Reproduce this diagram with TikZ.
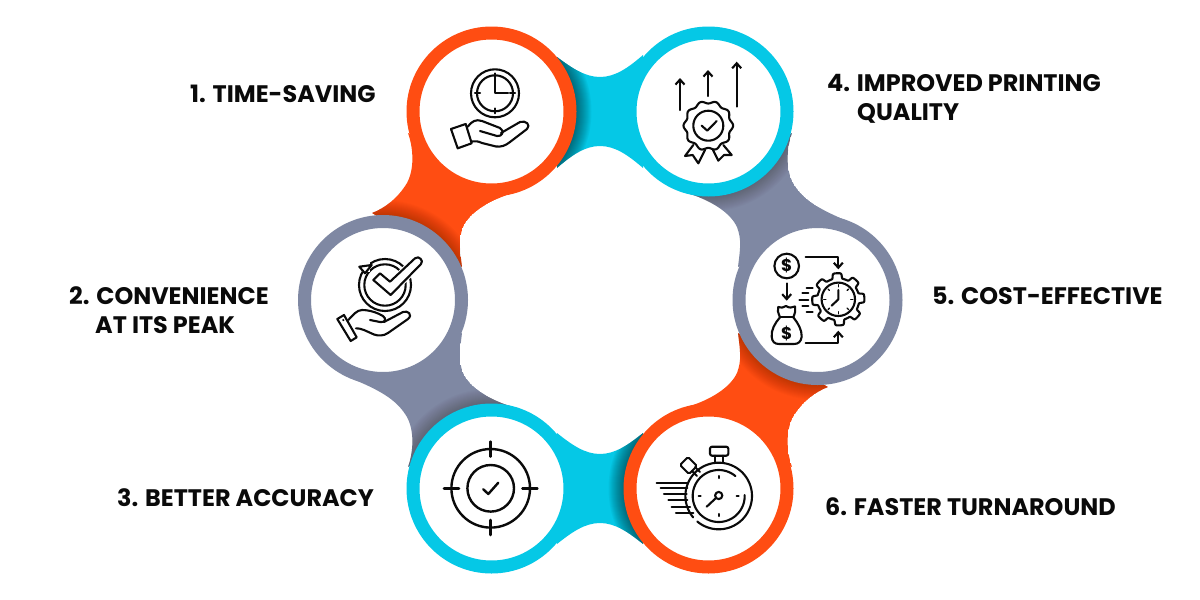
\documentclass[tikz,border=0pt]{standalone}
\usepackage{fontspec}
\setmainfont{Poppins}
\usetikzlibrary{arrows.meta,calc}
\definecolor{orangeC}{HTML}{FF4D12}
\definecolor{cyanC}{HTML}{05C8E6}
\definecolor{grayC}{HTML}{7F88A3}
\definecolor{inkC}{HTML}{0A0A0A}
\tikzset{
  x=1pt,y=-1pt,
  ring/.style={circle,fill=white,draw=#1,line width=13pt,minimum size=157pt,inner sep=0pt},
  lab/.style={anchor=base west,inner sep=0pt,text=inkC,font=\fontsize{23.9}{26}\selectfont\bfseries},
  ic/.style={draw=inkC,line width=2.1pt,line cap=round,line join=round},
  arr/.style={ic,-{Straight Barb[length=5pt,width=9pt,line width=2.1pt]}},
  dollar/.style={inner sep=0pt,text=inkC,font=\fontsize{17}{17}\selectfont\bfseries}
}
\newcommand{\linkfill}[3]{%
  \begin{scope}
    \clip #1;
    \fill[#2] #1;
    \foreach \rr in {85,86,...,100} {\fill[black,opacity=#3] (\shadowc) circle (\rr);}
  \end{scope}}
\begin{document}
\begin{tikzpicture}
\useasboundingbox (0,0) rectangle (1200,600);
\fill[white] (0,0) rectangle (1200,600);
\coordinate (p1) at (491.5,111.5);
\coordinate (p2) at (383,300);
\coordinate (p3) at (491.5,488.5);
\coordinate (p4) at (708.5,111.5);
\coordinate (p5) at (817.5,300);
\coordinate (p6) at (708.5,488.5);
% links
\def\shadowc{p1}
\linkfill{(557,57) .. controls (572,68) and (585,77) .. (600,77) .. controls (615,77) and (628,68) .. (643,55) -- (643,168) .. controls (628,155) and (615,146) .. (600,146) .. controls (585,146) and (572,155) .. (557,168) -- cycle}{cyanC}{0.035}
\def\shadowc{p6}
\linkfill{(557,433) .. controls (572,445) and (585,454) .. (600,454) .. controls (615,454) and (628,445) .. (643,433) -- (643,544) .. controls (628,532) and (615,523) .. (600,523) .. controls (585,523) and (572,532) .. (557,544) -- cycle}{cyanC}{0.035}
\def\shadowc{p2}
\linkfill{(408,133) .. controls (414,150) and (414,170) .. (407,183) .. controls (398,198) and (385,208) .. (372,213) -- (462,267) .. controls (460,250) and (458,240) .. (463,227) .. controls (470,212) and (490,200) .. (513,193) -- cycle}{orangeC}{0.014}
\def\shadowc{p5}
\linkfill{(792,467) .. controls (786,450) and (786,430) .. (793,417) .. controls (802,402) and (815,392) .. (828,387) -- (738,333) .. controls (740,350) and (742,360) .. (737,373) .. controls (730,388) and (710,400) .. (687,407) -- cycle}{orangeC}{0.014}
\def\shadowc{p3}
\linkfill{(408,467) .. controls (414,450) and (414,430) .. (407,417) .. controls (398,402) and (385,392) .. (350,378) -- (462,333) .. controls (460,350) and (458,360) .. (463,373) .. controls (470,388) and (490,400) .. (513,407) -- cycle}{grayC}{0.016}
\def\shadowc{p4}
\linkfill{(792,133) .. controls (786,150) and (786,170) .. (793,183) .. controls (802,198) and (815,208) .. (850,222) -- (738,267) .. controls (740,250) and (742,240) .. (737,227) .. controls (730,212) and (710,200) .. (687,193) -- cycle}{grayC}{0.016}
% rings
\node[ring=orangeC] (c1) at (p1) {};
\node[ring=grayC] (c2) at (p2) {};
\node[ring=cyanC] (c3) at (p3) {};
\node[ring=cyanC] (c4) at (p4) {};
\node[ring=grayC] (c5) at (p5) {};
\node[ring=orangeC] (c6) at (p6) {};
% labels
\node[lab] (t1) at (190,102.5) {1. TIME-SAVING};
\node[lab] (t2a) at (69,304) {2. CONVENIENCE};
\node[lab] (t2b) at (95,333) {AT ITS PEAK};
\node[lab] (t3) at (117,506) {3. BETTER ACCURACY};
\node[lab] (t4a) at (827,91) {4. IMPROVED PRINTING};
\node[lab] (t4b) at (857,120) {QUALITY};
\node[lab] (t5) at (932,304) {5. COST-EFFECTIVE};
\node[lab] (t6) at (825,515) {6. FASTER TURNAROUND};
% icon 1: clock over hand
\draw[ic] (495,93.3) circle (24) (495,93.3) circle (18);
\draw[ic] (495,78) -- (495,93.3) -- (508,93.3);
\foreach \a in {0,90,180,270} \draw[ic] ($(495,93.3)+(\a:15)$) -- ($(495,93.3)+(\a:20)$);
\draw[ic] (451,129) -- (465.7,124) -- (471.7,143.3) -- (457.7,148.3) -- cycle;
\draw[ic] (467.7,126.7) .. controls (472,121) and (476,119) .. (482,121) -- (500,128) .. controls (505,131) and (502,137) .. (497,136) -- (480,131);
\draw[ic] (501,133) -- (520,122) .. controls (526,120) and (531,125) .. (527,129) -- (510,142) .. controls (505,146) and (501,147) .. (496,146.5) -- (482,143) .. controls (478,141) and (475,141) .. (471.5,141.5);
% icon 2: check over hand
\draw[ic] (385,285) circle (26);
\draw[ic] (385,285) circle (20.7);
\fill[white] (371,279) -- (380,270) -- (390,279) -- (415,255) -- (424,264) -- (390.7,298) -- cycle;
\draw[ic] (373.3,280) -- (380,273.3) -- (390,281.7) -- (415,258.3) .. controls (419,255) and (424,261) .. (421,264) -- (390.7,295) -- cycle;
\fill[white] (362,262) rectangle (370,272);
\draw[ic] (359.3,266.7) -- (371.7,265) -- (365,273.3) -- cycle;
\draw[ic] (337.3,319) -- (344,315) -- (356.7,337.3) -- (350.7,341) -- cycle;
\fill[inkC] (343.3,320) circle (1.2);
\draw[ic] (348.3,320) .. controls (353,315) and (357,310) .. (362,310) .. controls (370,310) and (378,313) .. (383,316) .. controls (387,319) and (385,323) .. (380,322) -- (370,320);
\draw[ic] (384,322) -- (403,312) .. controls (408,310) and (413,315) .. (408,319) -- (388,333) .. controls (384,336) and (378,336) .. (374,334.5) -- (364,330) .. controls (361,329) and (358,328) .. (356,328.3);
% icon 3: target
\draw[ic,line width=2.4pt] (490.7,488.3) circle (39.3) (490.7,488.3) circle (23.3);
\foreach \a in {0,90,180,270} \draw[ic,line width=2.6pt] ($(490.7,488.3)+(\a:31.7)$) -- ($(490.7,488.3)+(\a:46.7)$);
\draw[ic,line width=2.4pt] (483.3,489.3) -- (488.3,494) -- (498.3,482.7);
% icon 4: arrows over badge
\draw[arr] (680,110) -- (680,78);
\draw[arr] (708,96) -- (708,70);
\draw[arr] (736.7,106.7) -- (736.7,61.7);
\draw[ic] plot[domain=0:360,samples=161,smooth] ({708.3+(23.5+1.3*cos(10*\x))*cos(\x)},{125.7+(23.5+1.3*cos(10*\x))*sin(\x)});
\draw[ic] (708.3,125.7) circle (15);
\draw[ic] (701.7,125.7) -- (707.3,130.7) -- (716.7,121);
\draw[ic] (693.3,145) -- (685,156) -- (692.7,155) -- (698.3,163.3) -- (705,150);
\draw[ic] (723.3,145) -- (731.7,155) -- (724,155) -- (718.3,160.7) -- (713,150);
% icon 5: cost loop
\draw[ic] (786.7,266) circle (12.3);
\node[dollar] (d1) at (786.7,266) {\$};
\draw[arr] (805.7,256.7) -- (838.3,256.7) -- (838.3,269.3);
\draw[arr] (786.7,283.3) -- (786.7,300.7);
\draw[ic] (780,317.3) -- (793.3,317.3);
\draw[ic] (780,317.3) .. controls (778,312) and (777,310) .. (778.3,307) .. controls (781,309) and (783,307) .. (786,306) .. controls (789,308) and (792,308) .. (795,306.5) .. controls (796,310) and (795,313) .. (793.3,317.3);
\draw[ic] (780,317.3) .. controls (775,323) and (771,330) .. (771.7,336.7) .. controls (772,342) and (775,344) .. (779,344) -- (794,344) .. controls (798,344) and (801,342) .. (801.7,336.7) .. controls (802,330) and (798,323) .. (793.3,317.3);
\node[dollar] (d2) at (786.7,333.3) {\$};
\draw[arr] (805.7,343.3) -- (838.3,343.3) -- (838.3,330.7);
\draw[ic] plot[domain=0:360,samples=241] ({838.3+(23.5+2.6*tanh(4*cos(8*\x+22.5)))*cos(\x)},{299.3+(23.5+2.6*tanh(4*cos(8*\x+22.5)))*sin(\x)});
\draw[ic] (838.3,299.3) circle (16.7);
\draw[ic] (838.3,290) -- (838.3,299.3) -- (831.7,305.7);
\foreach \a in {0,90,180,270,45,135,225,315} \draw[ic,line width=1.4pt] ($(838.3,299.3)+(\a:12.5)$) -- ($(838.3,299.3)+(\a:14.5)$);
\foreach \xa/\xb/\yy in {806.7/812.7/287.7,802.3/808.3/293.3,799.3/808.3/300,802.3/808.3/306,806.7/812.7/312} \draw[ic] (\xa,\yy) -- (\xb,\yy);
% icon 6: stopwatch
\draw[ic] plot[domain=-220:130,samples=90,smooth] ({718.7+33.3*cos(\x)},{496+33.3*sin(\x)});
\draw[ic] plot[domain=-2:310,samples=90,smooth] ({718.7+26*cos(\x)},{496+26*sin(\x)});
\draw[ic] (718.7,495.5) circle (3.6);
\draw[ic] (716,498) -- (706.7,506.7);
\foreach \a in {0,90,180,270} \draw[ic] ($(718.7,496)+(\a:18)$) -- ($(718.7,496)+(\a:20)$);
\draw[ic,rounded corners=2pt] (710,446.7) rectangle (728.3,455.7);
\draw[ic] (715,455.7) -- (715,462.3) (723.3,455.7) -- (723.3,462.3);
\draw[ic,rounded corners=1.5pt] (680,465) -- (688,457) -- (697,466) -- (689,474) -- cycle;
\draw[ic] (692,471) -- (697,476) (695,467) -- (700,472);
\foreach \xa/\xb/\yy in {656.7/686.7/482.7,660.7/687.3/488.3,664/686.7/494,668.3/687.3/500,671.7/690/506.7,676/693.3/513.3} \draw[ic] (\xa,\yy) -- (\xb,\yy);
\end{tikzpicture}
\end{document}
